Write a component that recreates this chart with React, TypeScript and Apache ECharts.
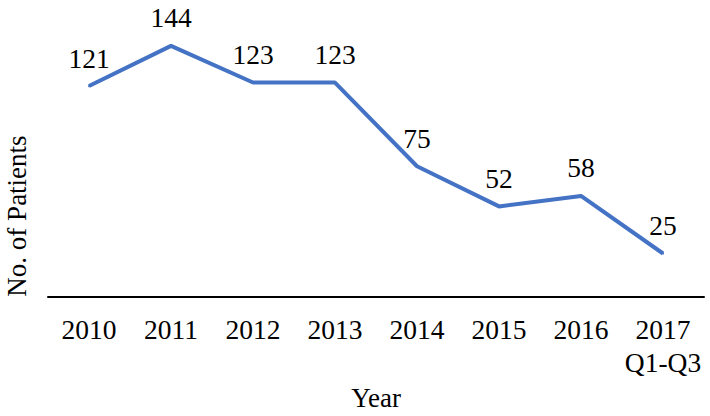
import React, { useEffect, useRef } from "react";
import * as echarts from "echarts";

const categories = ["2010", "2011", "2012", "2013", "2014", "2015", "2016", "2017\nQ1-Q3"];
const patients = [121, 144, 123, 123, 75, 52, 58, 25];
const xAxisTitle = "Year";
const yAxisTitle = "No. of Patients";

const FONT = "'Liberation Serif', 'Times New Roman', serif";

export default function App() {
  const ref = useRef<HTMLDivElement>(null);
  useEffect(() => {
    if (!ref.current) return;
    const chart = echarts.init(ref.current, null, { renderer: "svg" });
    chart.setOption({
      animation: false,
      backgroundColor: "#ffffff",
      textStyle: { fontFamily: FONT, color: "#000" },
      grid: { left: 48, right: 6, top: 18, bottom: 118, containLabel: false },
      xAxis: {
        type: "category",
        data: categories,
        boundaryGap: true,
        name: xAxisTitle,
        nameLocation: "middle",
        nameGap: 86,
        nameTextStyle: { fontFamily: FONT, fontSize: 27, color: "#000" },
        axisLine: { show: true, lineStyle: { color: "#000", width: 2 } },
        axisTick: { show: false },
        axisLabel: {
          fontFamily: FONT,
          fontSize: 27.5,
          color: "#000",
          margin: 16,
          lineHeight: 33,
          interval: 0,
        },
        splitLine: { show: false },
      },
      yAxis: {
        type: "value",
        min: 0,
        max: 160,
        show: false,
        splitLine: { show: false },
      },
      graphic: [
        {
          type: "text",
          x: 17,
          y: 216,
          rotation: Math.PI / 2,
          style: {
            text: yAxisTitle,
            fontFamily: FONT,
            fontSize: 27,
            fill: "#000",
            align: "center",
            verticalAlign: "middle",
          },
        },
      ],
      series: [
        {
          type: "line",
          data: patients,
          symbol: "circle",
          symbolSize: 2,
          showSymbol: true,
          lineStyle: { color: "#4472C4", width: 4 },
          itemStyle: { color: "#4472C4" },
          label: {
            show: true,
            position: "top",
            distance: 13,
            fontFamily: FONT,
            fontSize: 27.5,
            color: "#000",
            formatter: "{v|{c}}",
            rich: {
              v: { fontFamily: FONT, fontSize: 27.5, color: "#000" },
            },
          },
        },
      ],
    });
    return () => chart.dispose();
  }, []);
  return <div ref={ref} style={{ width: 710, height: 416, position: "absolute", left: 0, top: 0 }} />;
}
